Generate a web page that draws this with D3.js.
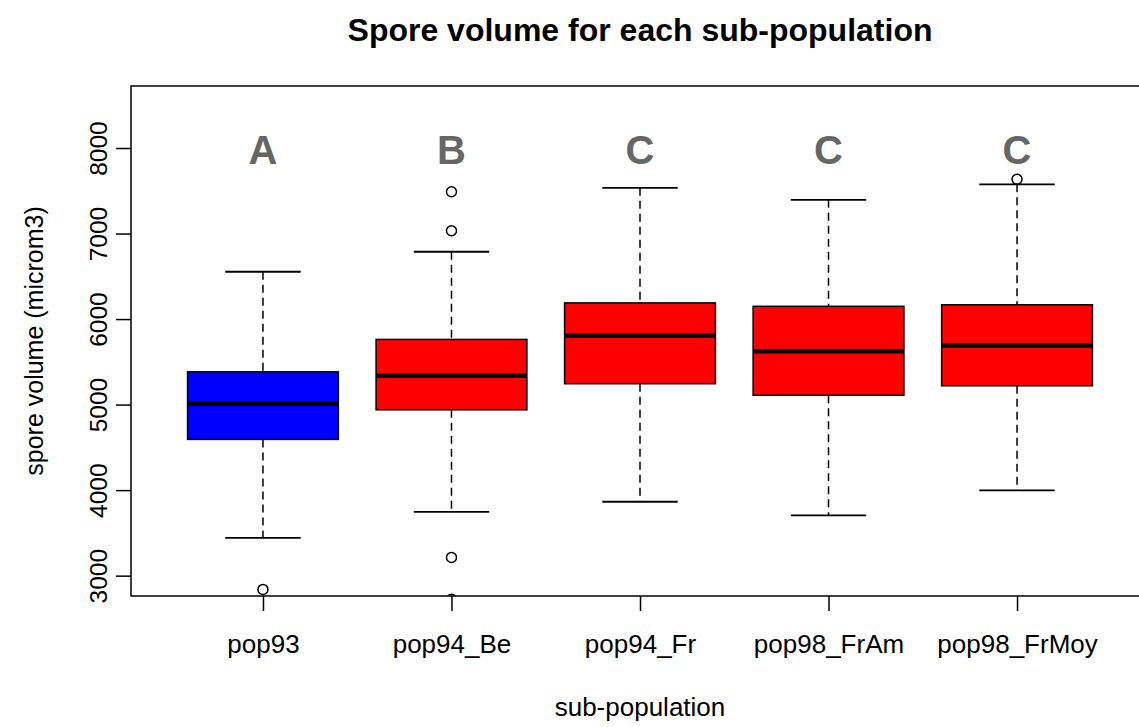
<!DOCTYPE html>
<html>
<head>
<meta charset="utf-8">
<script src="https://cdn.jsdelivr.net/npm/d3@7"></script>
<style>
  body { margin: 0; background: #fff; }
  svg text { font-family: "Liberation Sans", Arial, sans-serif; }
</style>
</head>
<body>
<div id="chart"></div>
<script>
// Data
const groups = ["pop93", "pop94_Be", "pop94_Fr", "pop98_FrAm", "pop98_FrMoy"];
const lowWhisker = [3448, 3752, 3870, 3710, 4002];
const q1 = [4599, 4945, 5250, 5115, 5226];
const median = [5020, 5343, 5810, 5630, 5698];
const q3 = [5389, 5768, 6195, 6155, 6173];
const highWhisker = [6559, 6793, 7540, 7400, 7581];
const outliers = [[2845], [7495, 7039, 3219, 2730], [], [], [7640]];
const letters = ["A", "B", "C", "C", "C"];
const fills = ["#0000FF", "#FF0000", "#FF0000", "#FF0000", "#FF0000"];
const yTicks = [3000, 4000, 5000, 6000, 7000, 8000];

// Dimensions
const W = 1139, H = 727;
const margin = { top: 86, left: 131, bottom: 596, right: 1149 };

const svg = d3.select("#chart")
    .append("svg")
    .attr("width", W)
    .attr("height", H);

// Scales (R style: xlim 0.3..5.7)
const x = d3.scaleLinear()
    .domain([0.3, groups.length + 0.7])
    .range([margin.left, margin.right]);

const y = d3.scaleLinear()
    .domain([2768, 8731])
    .range([margin.bottom, margin.top]);

const unit = x(2) - x(1);
const boxW = unit * 0.8;
const capW = boxW * 0.5;

svg.append("clipPath")
    .attr("id", "plotclip")
    .append("rect")
    .attr("x", margin.left)
    .attr("y", margin.top)
    .attr("width", margin.right - margin.left)
    .attr("height", margin.bottom - margin.top);

const plot = svg.append("g").attr("clip-path", "url(#plotclip)");

const data = groups.map((g, i) => ({
    g, i: i + 1,
    lo: lowWhisker[i], q1: q1[i], med: median[i], q3: q3[i], hi: highWhisker[i],
    out: outliers[i], fill: fills[i], letter: letters[i]
}));

const box = plot.selectAll(".box")
    .data(data)
    .enter()
    .append("g")
    .attr("class", "box");

// whiskers (dashed)
box.append("line")
    .attr("x1", d => x(d.i)).attr("x2", d => x(d.i))
    .attr("y1", d => y(d.hi)).attr("y2", d => y(d.q3))
    .attr("stroke", "#000").attr("stroke-width", 1.5)
    .attr("stroke-dasharray", "8,5");
box.append("line")
    .attr("x1", d => x(d.i)).attr("x2", d => x(d.i))
    .attr("y1", d => y(d.q1)).attr("y2", d => y(d.lo))
    .attr("stroke", "#000").attr("stroke-width", 1.5)
    .attr("stroke-dasharray", "8,5");

// staples
["hi", "lo"].forEach(k => {
    box.append("line")
        .attr("x1", d => x(d.i) - capW / 2).attr("x2", d => x(d.i) + capW / 2)
        .attr("y1", d => y(d[k])).attr("y2", d => y(d[k]))
        .attr("stroke", "#000").attr("stroke-width", 1.8);
});

// boxes
box.append("rect")
    .attr("x", d => x(d.i) - boxW / 2)
    .attr("width", boxW)
    .attr("y", d => y(d.q3))
    .attr("height", d => y(d.q1) - y(d.q3))
    .attr("fill", d => d.fill)
    .attr("stroke", "#000")
    .attr("stroke-width", 1.5);

// medians
box.append("line")
    .attr("x1", d => x(d.i) - boxW / 2).attr("x2", d => x(d.i) + boxW / 2)
    .attr("y1", d => y(d.med)).attr("y2", d => y(d.med))
    .attr("stroke", "#000").attr("stroke-width", 4.5);

// outliers
box.selectAll(".out")
    .data(d => d.out.map(v => ({ i: d.i, v })))
    .enter()
    .append("circle")
    .attr("cx", d => x(d.i))
    .attr("cy", d => y(d.v))
    .attr("r", 5)
    .attr("fill", "none")
    .attr("stroke", "#000")
    .attr("stroke-width", 1.5);

// group letters
plot.selectAll(".letter")
    .data(data)
    .enter()
    .append("text")
    .attr("x", d => x(d.i))
    .attr("y", y(8000) + 15)
    .attr("text-anchor", "middle")
    .style("font-size", "40px")
    .style("font-weight", 700)
    .attr("fill", "#666666")
    .text(d => d.letter);

// frame
svg.append("rect")
    .attr("x", margin.left)
    .attr("y", margin.top)
    .attr("width", margin.right - margin.left)
    .attr("height", margin.bottom - margin.top)
    .attr("fill", "none")
    .attr("stroke", "#000")
    .attr("stroke-width", 1.5);

// y axis
const yAxis = svg.append("g")
    .attr("transform", `translate(${margin.left},0)`)
    .call(d3.axisLeft(y).tickValues(yTicks).tickSize(15).tickPadding(8).tickFormat(d3.format("d")));
yAxis.select(".domain").remove();
yAxis.selectAll("line").attr("stroke-width", 1.5);
yAxis.selectAll("text")
    .attr("x", 0).attr("dy", 0)
    .attr("transform", d => `translate(-24,${y(d)}) rotate(-90)`)
    .attr("y", 0)
    .style("text-anchor", "middle")
    .style("font-size", "24.5px")
    .style("font-family", "Liberation Sans, Arial, sans-serif")
    .attr("fill", "#000");
yAxis.selectAll(".tick").attr("transform", null);
yAxis.selectAll(".tick line")
    .attr("y1", d => y(d)).attr("y2", d => y(d))
    .attr("x1", 0).attr("x2", -15);

// x axis
const xAxis = svg.append("g")
    .attr("transform", `translate(0,${margin.bottom})`)
    .call(d3.axisBottom(x).tickValues(d3.range(1, groups.length + 1)).tickSize(15).tickPadding(0)
        .tickFormat(d => groups[d - 1]));
xAxis.select(".domain").remove();
xAxis.selectAll("line").attr("stroke-width", 1.5);
xAxis.selectAll("text")
    .attr("y", 57).attr("dy", 0)
    .style("font-size", "26px")
    .style("font-family", "Liberation Sans, Arial, sans-serif")
    .attr("fill", "#000");

// axis titles
svg.append("text")
    .attr("x", (margin.left + margin.right) / 2)
    .attr("y", 716)
    .attr("text-anchor", "middle")
    .style("font-size", "26px")
    .text("sub-population");

svg.append("text")
    .attr("transform", `translate(43,${(margin.top + margin.bottom) / 2}) rotate(-90)`)
    .attr("text-anchor", "middle")
    .style("font-size", "25px")
    .text("spore volume (microm3)");

// title
svg.append("text")
    .attr("x", (margin.left + margin.right) / 2)
    .attr("y", 41)
    .attr("text-anchor", "middle")
    .style("font-size", "32px")
    .style("font-weight", 700)
    .text("Spore volume for each sub-population");
</script>
</body>
</html>
